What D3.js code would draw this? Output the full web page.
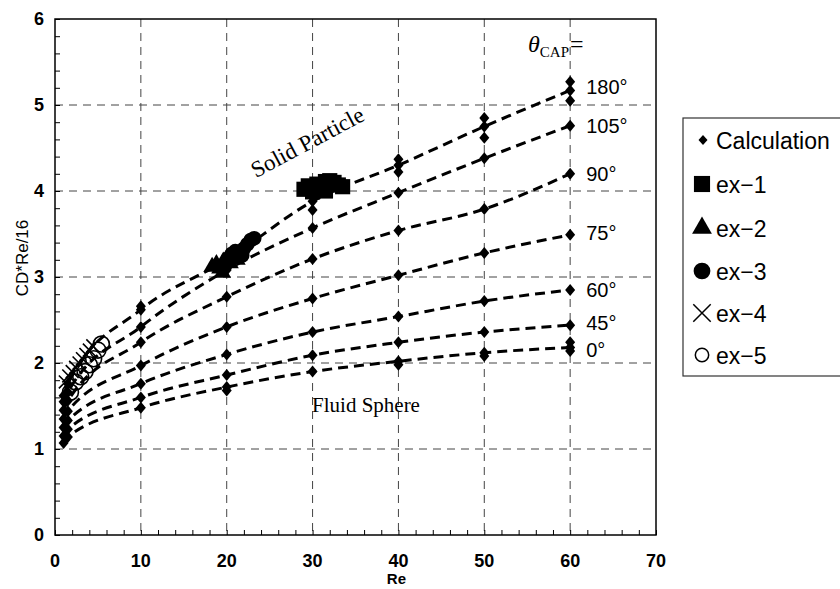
<!DOCTYPE html>
<html>
<head>
<meta charset="utf-8">
<script src="https://cdn.jsdelivr.net/npm/d3@7"></script>
<style>
  body { margin: 0; background: #fff; }
  svg { display: block; }
</style>
</head>
<body>
<svg id="chart" width="840" height="589"></svg>
<script>
// calculation results, one series per cap angle
const reCalc = [1, 1.5, 10, 20, 30, 40, 50, 60];
const thetaLabels = ["180°", "105°", "90°", "75°", "60°", "45°", "0°"];
const calc180 = [1.62, 1.76, 2.62, 3.20, 3.88, 4.30, 4.75, 5.17];
const calc105 = [1.55, 1.66, 2.42, 3.08, 3.57, 3.98, 4.38, 4.76];
const calc90  = [1.45, 1.56, 2.24, 2.77, 3.21, 3.54, 3.79, 4.20];
const calc75  = [1.35, 1.44, 1.97, 2.42, 2.75, 3.02, 3.28, 3.49];
const calc60  = [1.25, 1.33, 1.76, 2.10, 2.36, 2.54, 2.72, 2.85];
const calc45  = [1.15, 1.23, 1.60, 1.86, 2.09, 2.24, 2.36, 2.44];
const calc0   = [1.07, 1.14, 1.48, 1.72, 1.90, 2.02, 2.12, 2.18];
// extra calc points (scatter around the same Re)
const calcExtra = [[10, 2.66], [20, 1.68], [30, 3.95], [30, 3.78], [40, 4.37], [40, 4.22],
  [40, 1.98], [50, 4.85], [50, 4.62], [50, 2.08], [60, 5.27], [60, 5.05], [60, 2.24], [60, 2.14]];

// experiments
const ex1 = [[29, 4.02], [29.8, 4.04], [30.5, 4.08], [31, 4.05], [31.5, 4.11], [32, 4.12],
  [32.5, 4.1], [33, 4.07], [33.5, 4.05], [30, 3.99], [31.5, 4.0], [29.5, 4.06]];
const ex2 = [[18.3, 3.12], [18.8, 3.15], [19.2, 3.1], [19.6, 3.18], [20, 3.2], [20.4, 3.16],
  [20.8, 3.22], [19.5, 3.05], [21.2, 3.2]];
const ex3 = [[20.2, 3.22], [20.6, 3.27], [21, 3.3], [21.5, 3.28], [22, 3.33], [22.4, 3.38],
  [22.8, 3.43], [23.2, 3.45], [21.8, 3.25]];
const ex4 = [[1.2, 1.78], [1.6, 1.85], [2.0, 1.9], [2.4, 1.95], [2.8, 2.0], [3.2, 2.05],
  [3.6, 2.1], [4.0, 2.15], [4.4, 2.2]];
const ex5 = [[1.8, 1.66], [2.4, 1.78], [3.0, 1.84], [3.5, 1.9], [4.0, 1.98], [4.5, 2.05],
  [5.0, 2.15], [5.4, 2.22]];

const xTicks = [0, 10, 20, 30, 40, 50, 60, 70];
const yTicks = [0, 1, 2, 3, 4, 5, 6];
const legendLabels = ["Calculation", "ex\u22121", "ex\u22122", "ex\u22123", "ex\u22124", "ex\u22125"];

const svg = d3.select("#chart");
const x = d3.scaleLinear().domain([0, 70]).range([55, 656]);
const y = d3.scaleLinear().domain([0, 6]).range([535, 19]);

const sans = "Arial, 'Liberation Sans', sans-serif";
const serif = "'Times New Roman', 'Liberation Serif', serif";

// grid
svg.append("g").selectAll("line").data(xTicks.slice(1, -1)).join("line")
  .attr("x1", d => x(d)).attr("x2", d => x(d)).attr("y1", y(6)).attr("y2", y(0))
  .attr("stroke", "#444").attr("stroke-width", 1).attr("stroke-dasharray", "8,6");
svg.append("g").selectAll("line").data(yTicks.slice(1, -1)).join("line")
  .attr("x1", x(0)).attr("x2", x(70)).attr("y1", d => y(d)).attr("y2", d => y(d))
  .attr("stroke", "#444").attr("stroke-width", 1).attr("stroke-dasharray", "8,6");

// frame
svg.append("rect").attr("x", x(0)).attr("y", y(6))
  .attr("width", x(70) - x(0)).attr("height", y(0) - y(6))
  .attr("fill", "none").attr("stroke", "#000").attr("stroke-width", 1.5);

// axes with inward minor ticks
const xAxis = svg.append("g").attr("transform", `translate(0,${y(0)})`)
  .call(d3.axisBottom(x).tickValues(d3.range(0, 71, 2)).tickSize(-5).tickFormat(""));
const yAxis = svg.append("g").attr("transform", `translate(${x(0)},0)`)
  .call(d3.axisLeft(y).tickValues(d3.range(0, 6.01, 0.2)).tickSize(-5).tickFormat(""));
[xAxis, yAxis].forEach(a => { a.select(".domain").remove(); a.selectAll("line").attr("stroke", "#000"); });

svg.append("g").selectAll("text").data(xTicks).join("text")
  .attr("x", d => x(d)).attr("y", 567).attr("text-anchor", "middle")
  .attr("font-family", sans).attr("font-weight", "bold").attr("font-size", 18).text(d => d);
svg.append("g").selectAll("text").data(yTicks).join("text")
  .attr("x", 44).attr("y", d => y(d) + 6).attr("text-anchor", "end")
  .attr("font-family", sans).attr("font-weight", "bold").attr("font-size", 18).text(d => d);

svg.append("text").attr("x", x(40) - 2).attr("y", 584).attr("text-anchor", "middle")
  .attr("font-family", sans).attr("font-weight", "bold").attr("font-size", 15).text("Re");
svg.append("text").attr("transform", "translate(28,258) rotate(-90)").attr("text-anchor", "middle")
  .attr("font-family", sans).attr("font-size", 17).text("CD*Re/16");

// dashed calculation curves
const series = [calc180, calc105, calc90, calc75, calc60, calc45, calc0];
const line = d3.line().x(d => x(d[0])).y(d => y(d[1])).curve(d3.curveMonotoneX);
svg.append("g").selectAll("path").data(series).join("path")
  .attr("d", s => line(reCalc.map((r, i) => [r, s[i]])))
  .attr("fill", "none").attr("stroke", "#000").attr("stroke-width", 3)
  .attr("stroke-dasharray", "10,6");

const diamond = "M0,-6L5,0L0,6L-5,0Z";
const calcPts = series.flatMap(s => reCalc.map((r, i) => [r, s[i]])).concat(calcExtra);
svg.append("g").selectAll("path").data(calcPts).join("path")
  .attr("transform", d => `translate(${x(d[0])},${y(d[1])})`)
  .attr("d", diamond).attr("fill", "#000");

// experimental markers
const sym = (type, size) => d3.symbol().type(type).size(size)();
svg.append("g").selectAll("path").data(ex5).join("path")
  .attr("transform", d => `translate(${x(d[0])},${y(d[1])})`)
  .attr("d", sym(d3.symbolCircle, 200)).attr("fill", "none").attr("stroke", "#000").attr("stroke-width", 1.6);
svg.append("g").selectAll("path").data(ex4).join("path")
  .attr("transform", d => `translate(${x(d[0])},${y(d[1])})`)
  .attr("d", sym(d3.symbolTimes, 110)).attr("fill", "none").attr("stroke", "#000").attr("stroke-width", 1.6);
svg.append("g").selectAll("path").data(ex2).join("path")
  .attr("transform", d => `translate(${x(d[0])},${y(d[1])})`)
  .attr("d", sym(d3.symbolTriangle, 130)).attr("fill", "#000");
svg.append("g").selectAll("path").data(ex3).join("path")
  .attr("transform", d => `translate(${x(d[0])},${y(d[1])})`)
  .attr("d", sym(d3.symbolCircle, 170)).attr("fill", "#000");
svg.append("g").selectAll("path").data(ex1).join("path")
  .attr("transform", d => `translate(${x(d[0])},${y(d[1])})`)
  .attr("d", sym(d3.symbolSquare, 230)).attr("fill", "#000");

// angle labels at the end of each curve
const labelDy = [-3, 0, 0, -2, 0, -2, 2];
svg.append("g").selectAll("text").data(series).join("text")
  .attr("x", x(60) + 16).attr("y", (s, i) => y(s[s.length - 1]) + 7 + labelDy[i])
  .attr("font-family", sans).attr("font-size", 20).text((s, i) => thetaLabels[i]);

const cap = svg.append("text").attr("x", 528).attr("y", 52).attr("font-family", serif).attr("font-size", 24);
cap.append("tspan").attr("font-style", "italic").text("θ");
cap.append("tspan").attr("font-size", 15).attr("dy", 5).text("CAP");
cap.append("tspan").attr("dy", -5).attr("dx", 1).text("=");

svg.append("text").attr("transform", "translate(311,149) rotate(-28)").attr("text-anchor", "middle")
  .attr("font-family", serif).attr("font-size", 23).text("Solid Particle");
svg.append("text").attr("x", 366).attr("y", 412).attr("text-anchor", "middle")
  .attr("font-family", serif).attr("font-size", 21).text("Fluid Sphere");

// legend
const lg = svg.append("g");
lg.append("rect").attr("x", 683).attr("y", 118).attr("width", 170).attr("height", 258)
  .attr("fill", "#fff").attr("stroke", "#333").attr("stroke-width", 1.2);
const legendY = [141, 185, 229, 272, 314, 356];
const legendSym = [
  {d: "M0,-5L4.5,0L0,5L-4.5,0Z", fill: "#000"},
  {d: sym(d3.symbolSquare, 260), fill: "#000"},
  {d: sym(d3.symbolTriangle, 170), fill: "#000"},
  {d: sym(d3.symbolCircle, 220), fill: "#000"},
  {d: sym(d3.symbolTimes, 200), fill: "none"},
  {d: sym(d3.symbolCircle, 140), fill: "none"}
];
lg.selectAll("path").data(legendLabels).join("path")
  .attr("transform", (d, i) => `translate(${i === 0 ? 703 : 702},${legendY[i] - 1})`)
  .attr("d", (d, i) => legendSym[i].d).attr("fill", (d, i) => legendSym[i].fill)
  .attr("stroke", (d, i) => legendSym[i].fill === "none" ? "#000" : null).attr("stroke-width", 1.5);
lg.selectAll("text").data(legendLabels).join("text")
  .attr("x", 716).attr("y", (d, i) => legendY[i] + 8)
  .attr("font-family", sans).attr("font-size", 23).text(d => d);
</script>
</body>
</html>
